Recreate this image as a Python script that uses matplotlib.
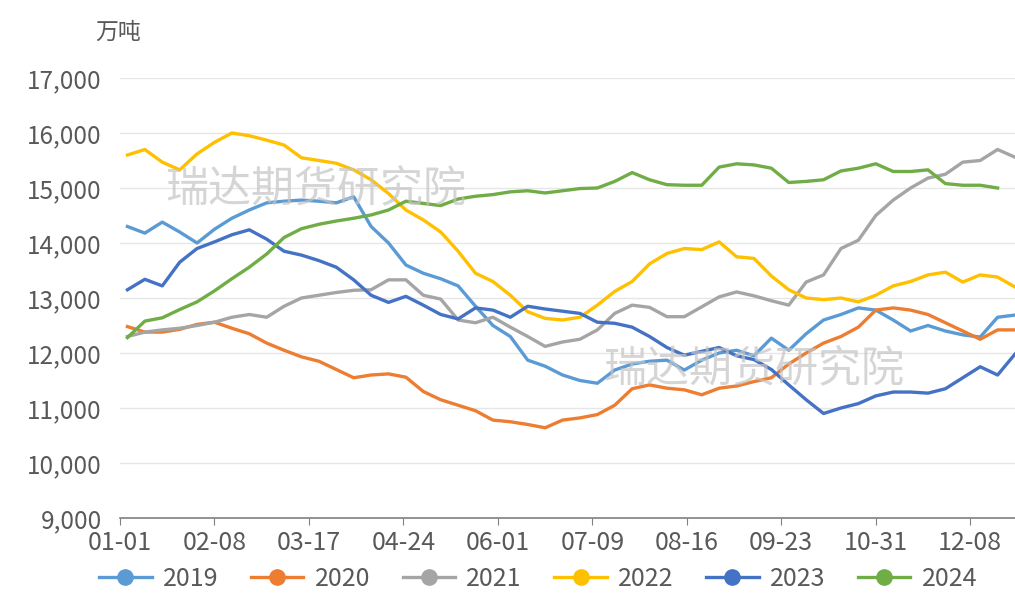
import numpy as np
import matplotlib
matplotlib.use("Agg")
import matplotlib.pyplot as plt
from matplotlib.ticker import FuncFormatter
from matplotlib.lines import Line2D

plt.rcParams['font.family'] = ['Noto Sans CJK SC', 'DejaVu Sans']

days = [3 + 7 * k for k in range(52)]
tick_days = [0, 38, 76, 114, 152, 190, 228, 266, 304, 342]
tick_labels = ["01-01", "02-08", "03-17", "04-24", "06-01", "07-09",
               "08-16", "09-23", "10-31", "12-08"]

s2019 = [14300, 14180, 14380, 14200, 14000, 14250, 14450, 14600, 14730, 14760,
         14780, 14760, 14730, 14840, 14300, 14000, 13600, 13450, 13350, 13220,
         12850, 12500, 12300, 11870, 11760, 11600, 11500, 11450, 11690, 11800,
         11850, 11870, 11690, 11870, 12000, 12050, 11950, 12270, 12050, 12350,
         12600, 12700, 12820, 12780, 12600, 12400, 12500, 12400, 12330, 12290,
         12650, 12690]
s2020 = [12480, 12380, 12380, 12430, 12520, 12560, 12450, 12350, 12180, 12050,
         11930, 11850, 11700, 11550, 11600, 11620, 11560, 11300, 11150, 11050,
         10950, 10780, 10750, 10700, 10640, 10780, 10820, 10880, 11050, 11350,
         11420, 11360, 11330, 11240, 11360, 11400, 11480, 11550, 11800, 12000,
         12180, 12300, 12470, 12780, 12820, 12780, 12700, 12550, 12400, 12250,
         12420, 12420]
s2021 = [12300, 12380, 12420, 12450, 12500, 12560, 12650, 12700, 12650, 12850,
         13000, 13050, 13100, 13140, 13150, 13330, 13330, 13050, 12980, 12600,
         12550, 12650, 12470, 12300, 12120, 12200, 12250, 12420, 12720, 12870,
         12830, 12660, 12660, 12840, 13020, 13110, 13040, 12950, 12870, 13290,
         13420, 13900, 14050, 14500, 14780, 15000, 15180, 15250, 15470, 15500,
         15700, 15560]
s2022 = [15600, 15700, 15470, 15330, 15620, 15830, 16000, 15950, 15870, 15780,
         15550, 15500, 15450, 15330, 15150, 14900, 14600, 14420, 14200, 13850,
         13450, 13300, 13050, 12750, 12630, 12600, 12650, 12870, 13120, 13300,
         13620, 13810, 13900, 13880, 14020, 13750, 13720, 13400, 13150, 13000,
         12970, 13000, 12930, 13050, 13220, 13300, 13420, 13470, 13290, 13420,
         13380, 13200]
s2023 = [13150, 13340, 13220, 13650, 13900, 14020, 14150, 14240, 14070, 13850,
         13780, 13680, 13560, 13330, 13050, 12920, 13030, 12870, 12700, 12620,
         12820, 12780, 12650, 12850, 12800, 12760, 12720, 12560, 12540, 12470,
         12300, 12100, 11960, 12030, 12100, 11950, 11880, 11700, 11420, 11150,
         10900, 11000, 11080, 11220, 11290, 11290, 11270, 11350, 11550, 11750,
         11600, 11980]
s2024 = [12280, 12580, 12640, 12790, 12930, 13130, 13350, 13560, 13800, 14100,
         14260, 14340, 14400, 14450, 14510, 14600, 14760, 14720, 14680, 14800,
         14850, 14880, 14930, 14950, 14910, 14950, 14990, 15000, 15120, 15280,
         15150, 15060, 15050, 15050, 15380, 15440, 15420, 15360, 15100, 15120,
         15150, 15310, 15360, 15440, 15300, 15300, 15330, 15080, 15050, 15050,
         15000, np.nan]

series = [("2019", s2019, "#5B9BD5"), ("2020", s2020, "#ED7D31"),
          ("2021", s2021, "#A5A5A5"), ("2022", s2022, "#FFC000"),
          ("2023", s2023, "#4472C4"), ("2024", s2024, "#70AD47")]

fig = plt.figure(figsize=(10.15, 5.95), dpi=100)
ax = fig.add_axes([120 / 1015, 1 - 518 / 595, 1 - 120 / 1015, (518 - 78) / 595])

for name, vals, col in series:
    ax.plot(days, vals, color=col, lw=2.4, label=name, solid_joinstyle='round')

ax.set_xlim(0, 360)
ax.set_ylim(9000, 17000)
ax.set_yticks(np.arange(9000, 17001, 1000))
ax.yaxis.set_major_formatter(FuncFormatter(lambda v, p: f"{int(v):,}"))
ax.set_xticks(tick_days)
ax.set_xticklabels(tick_labels)
ax.grid(axis='y', color='#e6e6e6', lw=1)
ax.set_axisbelow(True)
for sp in ['top', 'right', 'left']:
    ax.spines[sp].set_visible(False)
ax.spines['bottom'].set_color('#808080')
ax.spines['bottom'].set_linewidth(1.2)
ax.tick_params(axis='y', length=0, labelsize=17.5, colors='#595959', pad=13)
ax.tick_params(axis='x', length=5, color='#808080', labelsize=18, colors='#595959', pad=4)

fig.text(95 / 1015, 1 - 32 / 595, "万吨", fontsize=16.5, color='#595959', va='center', ha='left')

for (wx, wy) in [(165, 190), (603, 370)]:
    fig.text(wx / 1015, 1 - wy / 595, "瑞达期货研究院", fontsize=31, color='#c4c4c4',
             alpha=0.7, va='center', ha='left', fontweight='light')

hs = [Line2D([0], [0], color=c, lw=2.4, marker='o', markersize=11) for _, _, c in series]
fig.legend(hs, [n for n, _, _ in series], loc='center', ncol=6,
           bbox_to_anchor=(538 / 1015, 1 - 579 / 595), frameon=False,
           fontsize=18, labelcolor='#595959', handlelength=2.1, columnspacing=1.3,
           handletextpad=0.45)

fig.savefig("out.png", dpi=100)
